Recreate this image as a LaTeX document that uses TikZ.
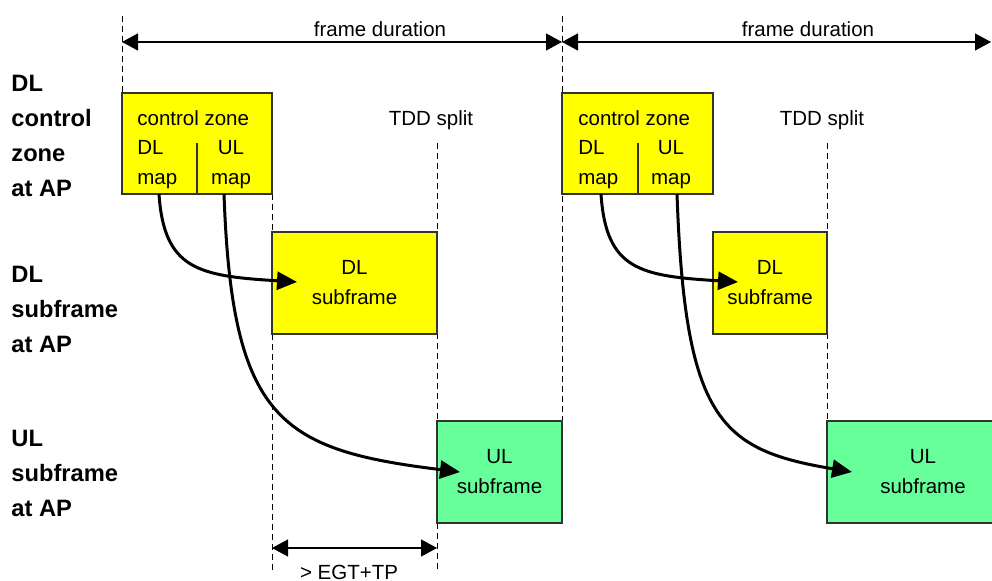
\documentclass[tikz,border=0pt]{standalone}
\usepackage{fontspec}
\setmainfont{Liberation Sans}
\usepackage{xcolor}
\usetikzlibrary{positioning,arrows.meta,calc}
\definecolor{dlyellow}{HTML}{FFFF00}
\definecolor{ulgreen}{HTML}{66FF99}

\begin{document}
\begin{tikzpicture}[
  x=0.5pt, y=-0.5pt,
  box/.style={draw=black!80, line width=0.6pt, anchor=north west, inner sep=0pt, outer sep=0pt, align=center, font=\fontsize{10.25}{15}\selectfont},
  dlbox/.style={box, fill=dlyellow, minimum height=51pt},
  ulbox/.style={box, fill=ulgreen, minimum height=51pt},
  zone/.style={box, fill=dlyellow, minimum height=50.5pt},
  txt/.style={inner sep=0pt, anchor=base west, align=left, font=\fontsize{10.25}{15}\selectfont},
  side/.style={inner sep=0pt, anchor=base west, align=left, font=\fontsize{11.85}{17.5}\selectfont\bfseries},
  guide/.style={dash pattern=on 3pt off 2pt, line width=0.5pt},
  dim/.style={{Triangle[length=8pt,width=8.5pt]}-{Triangle[length=8pt,width=8.5pt]}, line width=0.6pt},
  maparr/.style={-{Triangle[length=10pt,width=9pt]}, line width=1.5pt}
]
\useasboundingbox (0,0) rectangle (992,581);
\coordinate (f0) at (122,42); \coordinate (f1) at (562,42); \coordinate (f2) at (991,42);
\coordinate (e0) at (272,548); \coordinate (e1) at (437,548);
\draw[guide] (122,16) -- (122,93); \draw[guide] (272,194) -- (272,573);
\draw[guide] (437,143) -- (437,573); \draw[guide] (562,16) -- (562,421);
\draw[guide] (827,143) -- (827,421);
\node[zone, minimum width=75pt] (cz1) at (122,93) {};
\node[dlbox, minimum width=82.5pt] (dl1) at (272,232) {DL\\subframe};
\node[ulbox, minimum width=62.5pt] (ul1) at (437,421) {UL\\subframe};
\node[zone, minimum width=75.5pt] (cz2) at (562,93) {};
\node[dlbox, minimum width=57pt] (dl2) at (713,232) {DL\\subframe};
\node[ulbox, minimum width=96pt] (ul2) at (827,421) {UL\\subframe};
\node[txt] (cz1t) at (137,126) {control zone};
\node[txt] (dm1) at (137,185) {DL\\map};
\node[txt, anchor=base, align=center] (um1) at (231,185) {UL\\map};
\node[txt] (cz2t) at (578,126) {control zone};
\node[txt] (dm2) at (578,185) {DL\\map};
\node[txt, anchor=base, align=center] (um2) at (671,185) {UL\\map};
\draw[draw=black!80, line width=0.6pt] (197,143) -- (197,194);
\draw[draw=black!80, line width=0.6pt] (638,143) -- (638,194);
\node[txt, anchor=base] (fd1) at (380,37) {frame duration};
\node[txt, anchor=base] (fd2) at (808,37) {frame duration};
\node[txt, anchor=base] (tdd1) at (431,126) {TDD split};
\node[txt, anchor=base] (tdd2) at (822,126) {TDD split};
\node[side] (lcz) at (11,197) {DL\\control\\zone\\at AP};
\node[side] (ldl) at (11,353) {DL\\subframe\\at AP};
\node[side] (lul) at (11,517) {UL\\subframe\\at AP};
\draw[dim] (f0) -- (f1); \draw[dim] (f1) -- (f2);
\draw[dim] (e0) -- (e1);
\node[txt, anchor=base] (egt) at (349,580) {> EGT+TP};
\draw[maparr] ($(cz1.south west)+(37,0)$) .. controls +(5,76) and +(-98,-6) .. ($(dl1.west)+(25,-1)$);
\draw[maparr] ($(cz1.south west)+(102,0)$) .. controls +(8,226) and +(-180,-22) .. ($(ul1.west)+(23,0)$);
\draw[maparr] ($(cz2.south west)+(39,0)$) .. controls +(5,76) and +(-98,-6) .. ($(dl2.west)+(25,-1)$);
\draw[maparr] ($(cz2.south west)+(115,0)$) .. controls +(8,226) and +(-132,-22) .. ($(ul2.west)+(25,0)$);
\end{tikzpicture}
\end{document}
